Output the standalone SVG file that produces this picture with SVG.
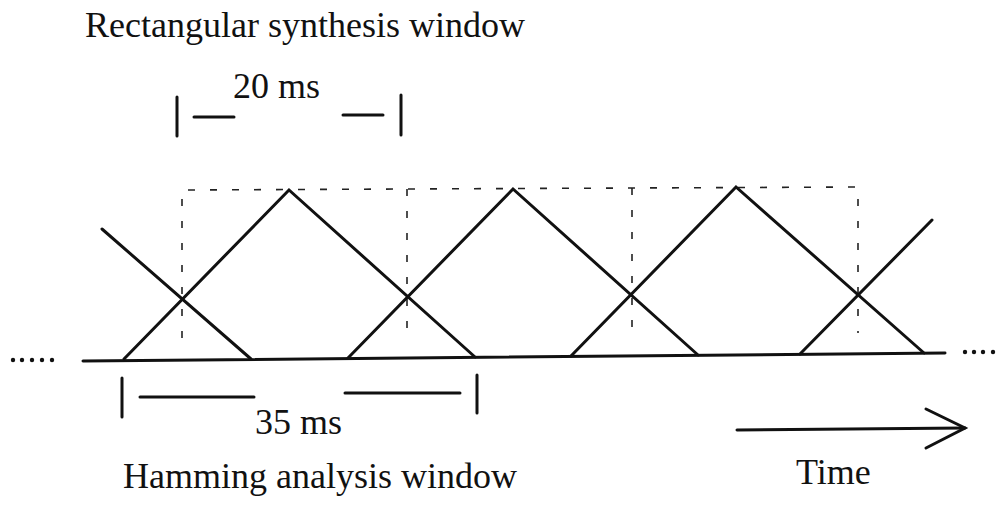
<svg xmlns="http://www.w3.org/2000/svg" width="999" height="516" viewBox="0 0 999 516">
<style>
  .t { font-family: "Liberation Serif", "Times New Roman", serif; font-size: 36px; fill: #111; }
  .solid { stroke: #111; stroke-width: 3; fill: none; stroke-linecap: round; stroke-linejoin: miter; }
  .dash { stroke: #222; stroke-width: 1.6; fill: none; stroke-dasharray: 7 15; }
  .dot { fill: #111; }
</style>
<rect width="999" height="516" fill="#fff"/>

<g id="labels">
  <text class="t" x="85" y="37">Rectangular synthesis window</text>
  <text class="t" x="233" y="98">20 ms</text>
  <text class="t" x="255" y="434">35 ms</text>
  <text class="t" x="123" y="488">Hamming analysis window</text>
  <text class="t" x="796" y="484">Time</text>
</g>

<g id="span-20ms" class="solid">
  <line x1="177" y1="97" x2="177" y2="136"/>
  <line x1="194" y1="117" x2="234" y2="117"/>
  <line x1="343" y1="115" x2="383" y2="115"/>
  <line x1="401" y1="95" x2="401" y2="135"/>
</g>

<g id="span-35ms" class="solid">
  <line x1="122" y1="378" x2="122" y2="417"/>
  <line x1="140" y1="397" x2="254" y2="397"/>
  <line x1="345" y1="393" x2="460" y2="393"/>
  <line x1="477" y1="375" x2="477" y2="413"/>
</g>

<g id="synthesis-windows" class="dash">
  <path d="M182 338 L182 190 L858 187 L858 333"/>
  <line x1="407" y1="189" x2="407" y2="338"/>
  <line x1="632" y1="188" x2="632" y2="335"/>
</g>

<g id="analysis-windows" class="solid">
  <polyline points="102,229 251,359"/>
  <polyline points="124,359 289,190 475,357"/>
  <polyline points="348,358 513,189 698,355"/>
  <polyline points="571,356 736,187 924,353"/>
  <polyline points="800,354 932,220"/>
</g>

<g id="axis">
  <line class="solid" x1="83" y1="361" x2="945" y2="353"/>
  <circle class="dot" cx="13" cy="360" r="2.2"/>
  <circle class="dot" cx="22" cy="360" r="2.2"/>
  <circle class="dot" cx="32" cy="360" r="2.2"/>
  <circle class="dot" cx="42" cy="360" r="2.2"/>
  <circle class="dot" cx="52" cy="360" r="2.2"/>
  <circle class="dot" cx="965" cy="352" r="2.2"/>
  <circle class="dot" cx="974" cy="352" r="2.2"/>
  <circle class="dot" cx="983" cy="352" r="2.2"/>
  <circle class="dot" cx="993" cy="352" r="2.2"/>
</g>

<g id="time-arrow" class="solid">
  <line x1="737" y1="430" x2="965" y2="428"/>
  <polyline points="926,409 965,428 926,448"/>
</g>
</svg>
